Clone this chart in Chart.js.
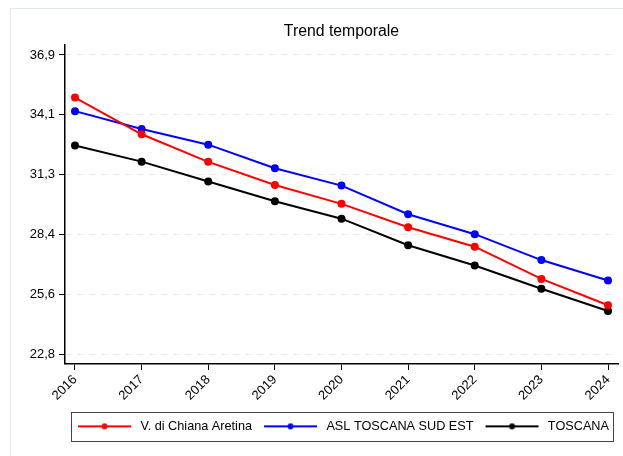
<!DOCTYPE html>
<html>
<head>
<meta charset="utf-8">
<script src="https://cdn.jsdelivr.net/npm/chart.js@4/dist/chart.umd.min.js"></script>
<style>
  html, body { margin: 0; padding: 0; background: #fff; }
  #wrap { width: 623px; height: 456px; position: relative; }
</style>
</head>
<body>
<div id="wrap"><canvas id="trend" width="623" height="456"></canvas></div>
<script>
var anni = [2016, 2017, 2018, 2019, 2020, 2021, 2022, 2023, 2024];
var chianaAretina = [34.89, 33.16, 31.86, 30.77, 29.88, 28.78, 27.86, 26.34, 25.10];
var aslSudEst = [34.25, 33.41, 32.67, 31.56, 30.74, 29.39, 28.45, 27.23, 26.27];
var toscana = [32.63, 31.87, 30.93, 30.00, 29.18, 27.93, 26.97, 25.88, 24.83];
var yTicks = [22.8, 25.6, 28.4, 31.3, 34.1, 36.9];
var yTickPos = [22.8, 25.62, 28.44, 31.26, 34.08, 36.9];

var FONT = "'Liberation Sans', Arial, sans-serif";

function punti(valori) {
  return anni.map(function (a, i) { return { x: a, y: valori[i] }; });
}

// line + dot used as legend symbol (empty space on the left)
function simbolo(colore) {
  var c = document.createElement('canvas');
  c.width = 60; c.height = 10;
  var g = c.getContext('2d');
  g.strokeStyle = colore;
  g.lineWidth = 2;
  g.beginPath(); g.moveTo(4, 5); g.lineTo(57, 5); g.stroke();
  g.fillStyle = colore;
  g.beginPath(); g.arc(30.5, 5, 3, 0, Math.PI * 2); g.fill();
  return c;
}

function serie(label, valori, colore) {
  return {
    label: label,
    data: punti(valori),
    borderColor: colore,
    backgroundColor: colore,
    borderWidth: 2,
    pointRadius: 3,
    pointHoverRadius: 3,
    pointStyle: 'circle',
    tension: 0,
    fill: false
  };
}

var simboli = [simbolo('#ff0000'), simbolo('#0000ff'), simbolo('#000000')];

// outer frame and the box round the legend
var cornice = {
  id: 'cornice',
  beforeDraw: function (chart) {
    var ctx = chart.ctx;
    ctx.save();
    ctx.strokeStyle = '#e3eaee';
    ctx.lineWidth = 1;
    ctx.strokeRect(10.5, 8.5, 700, 460);
    ctx.restore();
  },
  afterDraw: function (chart) {
    var lg = chart.legend;
    if (!lg || !lg.legendHitBoxes.length) return;
    var hb = lg.legendHitBoxes;
    var first = hb[0], last = hb[hb.length - 1];
    var cy = first.top + first.height / 2;
    var ctx = chart.ctx;
    ctx.save();
    ctx.strokeStyle = '#444';
    ctx.lineWidth = 1;
    var x0 = Math.round(first.left - 3) + 0.5;
    var x1 = Math.round(last.left + last.width + 4) + 0.5;
    var y0 = Math.round(cy - 14.5) + 0.5;
    ctx.strokeRect(x0, y0, x1 - x0, 29);
    ctx.restore();
  }
};

new Chart(document.getElementById('trend'), {
  type: 'line',
  data: {
    datasets: [
      serie('V. di Chiana Aretina', chianaAretina, '#ff0000'),
      serie('ASL TOSCANA SUD EST', aslSudEst, '#0000ff'),
      serie('TOSCANA', toscana, '#000000')
    ]
  },
  options: {
    responsive: false,
    animation: false,
    layout: { padding: { left: 10, right: 4, top: 0, bottom: 13.3 } },
    plugins: {
      title: {
        display: true,
        text: 'Trend temporale',
        fullSize: false,
        color: '#000',
        font: { family: FONT, size: 15.8, weight: 'normal' },
        padding: { top: 22, bottom: 4 }
      },
      legend: {
        position: 'bottom',
        align: 'center',
        fullSize: false,
        labels: {
          usePointStyle: true,
          pointStyleWidth: 60,
          padding: 8,
          color: '#000',
          font: { family: FONT, size: 12.7 },
          generateLabels: function (chart) {
            return chart.data.datasets.map(function (ds, i) {
              return {
                text: ds.label,
                pointStyle: simboli[i],
                fillStyle: ds.borderColor,
                strokeStyle: ds.borderColor,
                lineWidth: 0,
                hidden: false,
                datasetIndex: i,
                fontColor: '#000'
              };
            });
          }
        }
      },
      tooltip: { enabled: false }
    },
    scales: {
      x: {
        type: 'linear',
        min: 2015.85,
        max: 2024.15,
        afterBuildTicks: function (scale) {
          scale.ticks = anni.map(function (a) { return { value: a }; });
        },
        afterFit: function (scale) { scale.height = 48; },
        ticks: {
          autoSkip: false,
          minRotation: 45,
          maxRotation: 45,
          padding: 2,
          color: '#000',
          font: { family: FONT, size: 13 },
          callback: function (v) { return String(v); }
        },
        grid: {
          drawOnChartArea: false,
          tickLength: 6,
          tickColor: '#000',
          tickWidth: 1
        },
        border: { color: '#000', width: 1.5 }
      },
      y: {
        min: 22.33,
        max: 37.37,
        afterBuildTicks: function (scale) {
          scale.ticks = yTickPos.map(function (v) { return { value: v }; });
        },
        afterFit: function (scale) { scale.width = 55; },
        ticks: {
          padding: 4,
          color: '#000',
          font: { family: FONT, size: 13 },
          callback: function (v, i) {
            return yTicks[i].toFixed(1).replace('.', ',');
          }
        },
        grid: {
          color: '#e8e8e8',
          lineWidth: 1,
          tickLength: 6,
          tickColor: '#000',
          tickWidth: 1,
          tickBorderDash: []
        },
        border: { color: '#000', width: 1.5, dash: [6, 6] }
      }
    }
  },
  plugins: [cornice]
});
</script>
</body>
</html>
